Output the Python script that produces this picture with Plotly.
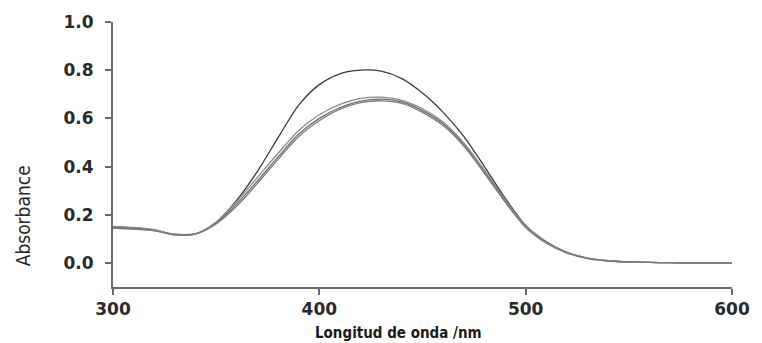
import plotly.graph_objects as go

# Wavelength grid (nm)
wavelength = [300, 310, 320, 330, 340, 350, 360, 370, 380, 390, 400, 410, 420, 430, 440,
              450, 460, 470, 480, 490, 500, 510, 520, 530, 540, 550, 560, 570, 580, 590, 600]

# Absorbance spectra
abs_1 = [0.150, 0.145, 0.136, 0.118, 0.121, 0.168, 0.260, 0.380, 0.520, 0.655, 0.740, 0.785,
         0.800, 0.796, 0.765, 0.705, 0.625, 0.525, 0.400, 0.270, 0.155, 0.088, 0.044, 0.020,
         0.009, 0.004, 0.002, 0.001, 0.0005, 0.0002, 0.0]
abs_2 = [0.148, 0.142, 0.136, 0.119, 0.122, 0.165, 0.245, 0.340, 0.440, 0.535, 0.600, 0.645,
         0.672, 0.680, 0.668, 0.632, 0.578, 0.492, 0.378, 0.258, 0.150, 0.085, 0.043, 0.019,
         0.009, 0.004, 0.002, 0.001, 0.0005, 0.0002, 0.0]
abs_3 = [0.152, 0.147, 0.138, 0.116, 0.120, 0.170, 0.255, 0.355, 0.455, 0.550, 0.615, 0.658,
         0.683, 0.688, 0.675, 0.640, 0.585, 0.498, 0.385, 0.264, 0.154, 0.087, 0.044, 0.020,
         0.009, 0.004, 0.002, 0.001, 0.0005, 0.0002, 0.0]
abs_4 = [0.145, 0.140, 0.133, 0.116, 0.120, 0.162, 0.236, 0.330, 0.430, 0.525, 0.590, 0.638,
         0.665, 0.673, 0.662, 0.625, 0.570, 0.485, 0.372, 0.253, 0.147, 0.082, 0.041, 0.018,
         0.008, 0.004, 0.002, 0.001, 0.0005, 0.0002, 0.0]

series = [abs_1, abs_2, abs_3, abs_4]
colors = ["#3a3a3a", "#6e6e6e", "#8a8a8a", "#7c7c7c"]

y_ticks = [0.0, 0.2, 0.4, 0.6, 0.8, 1.0]
y_ticktext = ["0.0", "0.2", "0.4", "0.6", "0.8", "1.0"]
x_ticks = [300, 400, 500, 600]
x_ticktext = ["300", "400", "500", "600"]

fig = go.Figure()
for vals, col in zip(series, colors):
    fig.add_trace(go.Scatter(
        x=wavelength, y=vals, mode="lines",
        line=dict(color=col, width=1.3, shape="spline", smoothing=0.8),
        showlegend=False, hoverinfo="skip",
    ))

tick_font = dict(family="DejaVu Sans", size=17, color="#2a2a2a", weight="bold")

fig.update_layout(
    width=762, height=343,
    margin=dict(l=113, r=25, t=20, b=56),
    paper_bgcolor="white", plot_bgcolor="white",
    xaxis=dict(
        range=[300, 600], tickvals=x_ticks, ticktext=x_ticktext,
        showline=True, linecolor="#6a6a6a", linewidth=2,
        ticks="outside", ticklen=6, tickwidth=2, tickcolor="#6a6a6a",
        showgrid=False, zeroline=False, tickfont=tick_font,
    ),
    yaxis=dict(
        range=[-0.1, 1.0], tickvals=y_ticks, ticktext=y_ticktext,
        showline=True, linecolor="#6a6a6a", linewidth=2,
        ticks="outside", ticklen=6, tickwidth=2, tickcolor="#6a6a6a",
        showgrid=False, zeroline=False, tickfont=tick_font,
        ticklabelstandoff=8,
    ),
    annotations=[
        dict(text="Longitud de onda /nm", xref="paper", yref="paper",
             x=0.4615, y=-0.172, xanchor="center", yanchor="middle", showarrow=False,
             font=dict(family="DejaVu Sans Condensed, DejaVu Sans", size=15,
                       color="#1a1a1a", weight="bold")),
        dict(text="Absorbance", xref="paper", yref="paper",
             x=-0.144, y=0.27, xanchor="center", yanchor="middle", showarrow=False,
             textangle=-90,
             font=dict(family="Liberation Sans Narrow, DejaVu Sans Condensed", size=19,
                       color="#2a2a2a")),
    ],
)

fig.write_html("out.html")
